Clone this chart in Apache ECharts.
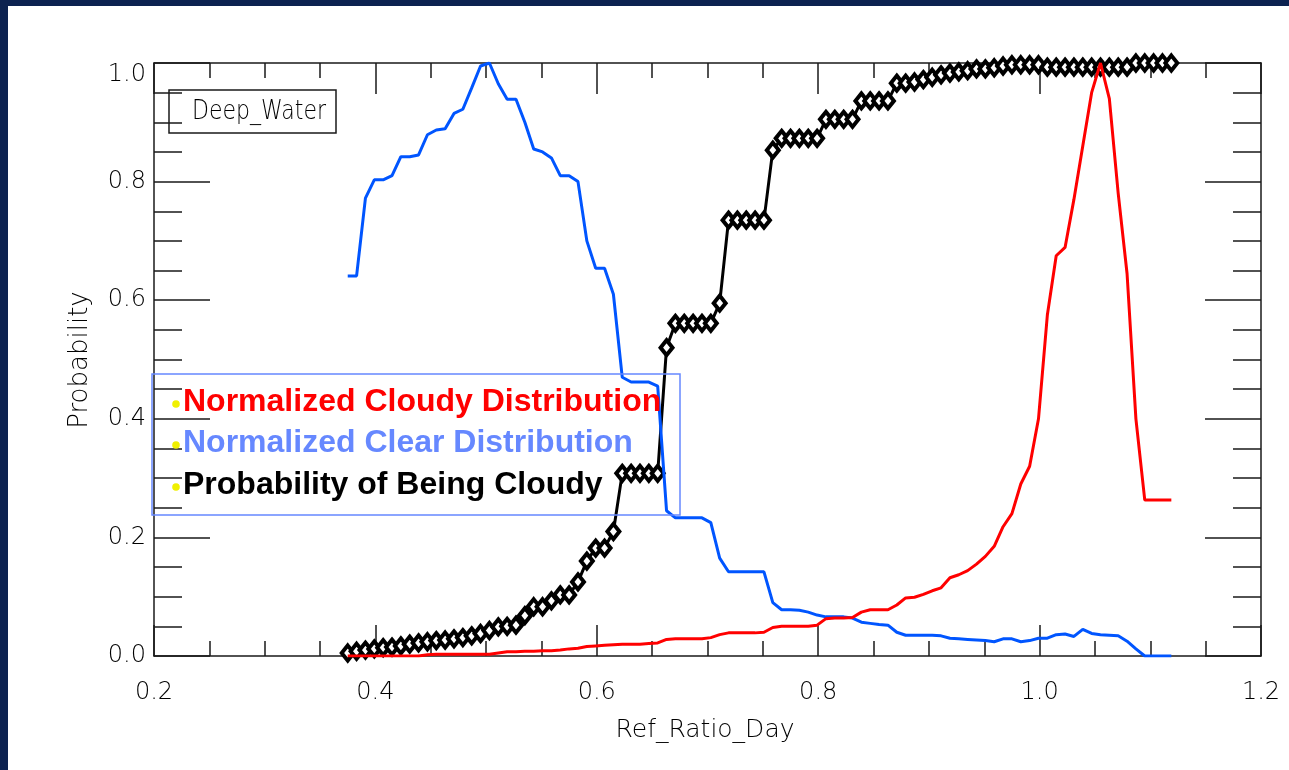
<!DOCTYPE html>
<html>
<head>
<meta charset="utf-8">
<script src="https://cdn.jsdelivr.net/npm/echarts@6/dist/echarts.min.js"></script>
<style>
  html, body { margin: 0; padding: 0; width: 1289px; height: 770px; overflow: hidden; background: #0c2250; }
  #chart { position: absolute; left: 8px; top: 6px; width: 1281px; height: 764px; }
</style>
</head>
<body>
<div id="chart"></div>
<script>
// Bin centres of the reflectance ratio
const refRatio = [
  0.375, 0.383, 0.391, 0.399, 0.407, 0.415, 0.423, 0.431, 0.439, 0.447,
  0.455, 0.463, 0.471, 0.479, 0.487, 0.495, 0.503, 0.511, 0.519, 0.527,
  0.535, 0.543, 0.551, 0.559, 0.567, 0.575, 0.583, 0.591, 0.599, 0.607,
  0.615, 0.623, 0.631, 0.639, 0.647, 0.655, 0.663, 0.671, 0.679, 0.687,
  0.695, 0.703, 0.711, 0.719, 0.727, 0.735, 0.743, 0.751, 0.759, 0.767,
  0.775, 0.783, 0.791, 0.799, 0.807, 0.815, 0.823, 0.831, 0.839, 0.847,
  0.855, 0.863, 0.871, 0.879, 0.887, 0.895, 0.903, 0.911, 0.919, 0.927,
  0.935, 0.943, 0.951, 0.959, 0.967, 0.975, 0.983, 0.991, 0.999, 1.007,
  1.015, 1.023, 1.031, 1.039, 1.047, 1.055, 1.063, 1.071, 1.079, 1.087,
  1.095, 1.103, 1.111, 1.119
];

// Normalized cloudy distribution
const cloudyDist = [
  0, 0, 0, 0, 0, 0, 0, 0, 0, 0.002,
  0.003, 0.003, 0.003, 0.003, 0.003, 0.003, 0.003, 0.005, 0.007, 0.007,
  0.008, 0.008, 0.009, 0.009, 0.010, 0.012, 0.013, 0.016, 0.017, 0.018,
  0.019, 0.020, 0.020, 0.020, 0.021, 0.022, 0.028, 0.029, 0.029, 0.029,
  0.029, 0.031, 0.036, 0.039, 0.039, 0.039, 0.039, 0.040, 0.048, 0.050,
  0.050, 0.050, 0.050, 0.052, 0.063, 0.064, 0.064, 0.065, 0.074, 0.078,
  0.078, 0.078, 0.086, 0.098, 0.099, 0.104, 0.110, 0.115, 0.132, 0.137,
  0.144, 0.155, 0.168, 0.185, 0.218, 0.240, 0.290, 0.320, 0.400, 0.575,
  0.675, 0.689, 0.770, 0.860, 0.950, 1.000, 0.940, 0.780, 0.645, 0.400,
  0.263, 0.263, 0.263, 0.263
];

// Normalized clear distribution
const clearDist = [
  0.641, 0.641, 0.772, 0.803, 0.803, 0.810, 0.842, 0.842, 0.845, 0.879,
  0.887, 0.889, 0.915, 0.922, 0.958, 0.995, 1.000, 0.965, 0.939, 0.939,
  0.900, 0.855, 0.850, 0.840, 0.810, 0.810, 0.800, 0.700, 0.654, 0.654,
  0.610, 0.470, 0.462, 0.462, 0.462, 0.455, 0.245, 0.233, 0.233, 0.233,
  0.233, 0.225, 0.165, 0.142, 0.142, 0.142, 0.142, 0.142, 0.090, 0.078,
  0.078, 0.077, 0.074, 0.069, 0.066, 0.066, 0.066, 0.064, 0.057, 0.055,
  0.053, 0.052, 0.040, 0.035, 0.035, 0.035, 0.035, 0.034, 0.030, 0.029,
  0.028, 0.027, 0.026, 0.024, 0.029, 0.029, 0.024, 0.026, 0.030, 0.030,
  0.036, 0.037, 0.033, 0.045, 0.038, 0.036, 0.035, 0.034, 0.025, 0.012,
  0, 0, 0, 0
];

// Probability of being cloudy
const probCloudy = [
  0.005, 0.008, 0.010, 0.012, 0.014, 0.015, 0.017, 0.020, 0.022, 0.024,
  0.026, 0.027, 0.029, 0.031, 0.034, 0.038, 0.043, 0.049, 0.050, 0.052,
  0.068, 0.083, 0.083, 0.093, 0.103, 0.103, 0.125, 0.160, 0.182, 0.182,
  0.210, 0.308, 0.308, 0.308, 0.308, 0.308, 0.520, 0.561, 0.561, 0.561,
  0.561, 0.561, 0.595, 0.735, 0.735, 0.735, 0.735, 0.735, 0.853, 0.873,
  0.873, 0.873, 0.873, 0.873, 0.905, 0.905, 0.905, 0.905, 0.936, 0.936,
  0.936, 0.936, 0.966, 0.966, 0.968, 0.972, 0.976, 0.980, 0.983, 0.985,
  0.987, 0.990, 0.990, 0.992, 0.995, 0.997, 0.997, 0.997, 0.997, 0.993,
  0.993, 0.993, 0.993, 0.993, 0.993, 0.993, 0.993, 0.993, 0.993, 1.000,
  1.000, 1.000, 1.000, 1.000
];

const legendLabels = [
  'Normalized Cloudy Distribution',
  'Normalized Clear Distribution',
  'Probability of Being Cloudy'
];
const surfaceType = 'Deep_Water';
const xTitle = 'Ref_Ratio_Day';
const yTitle = 'Probability';

const RED = '#ff0000';
const BLUE = '#0055ff';
const LEGEND_BLUE = '#6688ff';
const INK = '#000000';
const THIN_FONT = "'DejaVu Sans', 'Liberation Sans', sans-serif";
const BOLD_FONT = "'Liberation Sans', Arial, sans-serif";

const pairs = (ys) => refRatio.map((x, i) => [x, ys[i]]);

const axisLineStyle = { color: '#1a1a1a', width: 1.5 };

function xAxisDef(position, showLabels) {
  return {
    type: 'value', position, min: 0.2, max: 1.2, interval: 0.2,
    axisLine: { show: true, onZero: false, lineStyle: axisLineStyle },
    axisTick: { show: true, inside: true, length: 31, lineStyle: axisLineStyle },
    minorTick: { show: true, splitNumber: 4, length: 15, lineStyle: axisLineStyle },
    splitLine: { show: false },
    axisLabel: {
      show: showLabels, margin: 25, color: INK,
      fontFamily: THIN_FONT, fontWeight: 200, fontSize: 24,
      formatter: (v) => v.toFixed(1)
    }
  };
}

function yAxisDef(position, showLabels) {
  return {
    type: 'value', position, min: 0, max: 1, interval: 0.2,
    axisLine: { show: true, onZero: false, lineStyle: axisLineStyle },
    axisTick: { show: true, inside: true, length: 56, lineStyle: axisLineStyle },
    minorTick: { show: true, splitNumber: 4, length: 28, lineStyle: axisLineStyle },
    splitLine: { show: false },
    axisLabel: {
      show: showLabels, margin: 8, color: INK,
      fontFamily: THIN_FONT, fontWeight: 200, fontSize: 24,
      verticalAlignMaxLabel: 'top',
      formatter: (v) => v.toFixed(1)
    }
  };
}

const legendRowY = [396, 437, 479];
const legendColors = [RED, LEGEND_BLUE, '#000000'];

const graphics = [
  // surface type label box
  { type: 'rect', shape: { x: 161, y: 84, width: 167, height: 43 },
    style: { fill: null, stroke: '#1a1a1a', lineWidth: 1.5 }, z: 50 },
  { type: 'text', x: 184, y: 106, scaleY: 1.2,
    style: { text: surfaceType, fill: INK, font: `200 22px ${THIN_FONT}`,
             textAlign: 'left', textVerticalAlign: 'middle' }, z: 50 },
  // axis titles
  { type: 'text', x: 72, y: 354, rotation: Math.PI / 2,
    style: { text: yTitle, fill: INK, font: `200 26px ${THIN_FONT}`,
             textAlign: 'center', textVerticalAlign: 'middle' }, z: 50 },
  { type: 'text', x: 697, y: 724,
    style: { text: xTitle, fill: INK, font: `200 25px ${THIN_FONT}`,
             textAlign: 'center', textVerticalAlign: 'middle' }, z: 50 },
  // series key
  { type: 'rect', shape: { x: 144, y: 368, width: 528, height: 141 },
    style: { fill: null, stroke: LEGEND_BLUE, lineWidth: 1.5 }, z: 60 }
];
legendLabels.forEach((label, i) => {
  graphics.push({ type: 'circle', shape: { cx: 168, cy: legendRowY[i] + 2, r: 3.8 },
    style: { fill: '#f0f000' }, z: 61 });
  graphics.push({ type: 'text', x: 175, y: legendRowY[i],
    style: { text: label, fill: legendColors[i], font: `bold 32px ${BOLD_FONT}`,
             textAlign: 'left', textVerticalAlign: 'middle' }, z: 61 });
});

const chart = echarts.init(document.getElementById('chart'), null, { renderer: 'canvas' });
chart.setOption({
  backgroundColor: '#ffffff',
  animation: false,
  grid: { left: 146, right: 28, top: 57, bottom: 114, containLabel: false },
  xAxis: [xAxisDef('bottom', true), xAxisDef('top', false)],
  yAxis: [yAxisDef('left', true), yAxisDef('right', false)],
  series: [
    {
      name: legendLabels[2], type: 'line', xAxisIndex: 0, yAxisIndex: 0,
      data: pairs(probCloudy),
      symbol: 'diamond', symbolSize: [12, 15], showAllSymbol: true,
      lineStyle: { color: '#000000', width: 3 },
      itemStyle: { color: '#ffffff', borderColor: '#000000', borderWidth: 4 },
      z: 3
    },
    {
      name: legendLabels[1], type: 'line', xAxisIndex: 0, yAxisIndex: 0,
      data: pairs(clearDist), symbol: 'none',
      lineStyle: { color: BLUE, width: 3 }, z: 4
    },
    {
      name: legendLabels[0], type: 'line', xAxisIndex: 0, yAxisIndex: 0,
      data: pairs(cloudyDist), symbol: 'none',
      lineStyle: { color: RED, width: 3 }, z: 5
    }
  ],
  graphic: { elements: graphics }
});
</script>
</body>
</html>
